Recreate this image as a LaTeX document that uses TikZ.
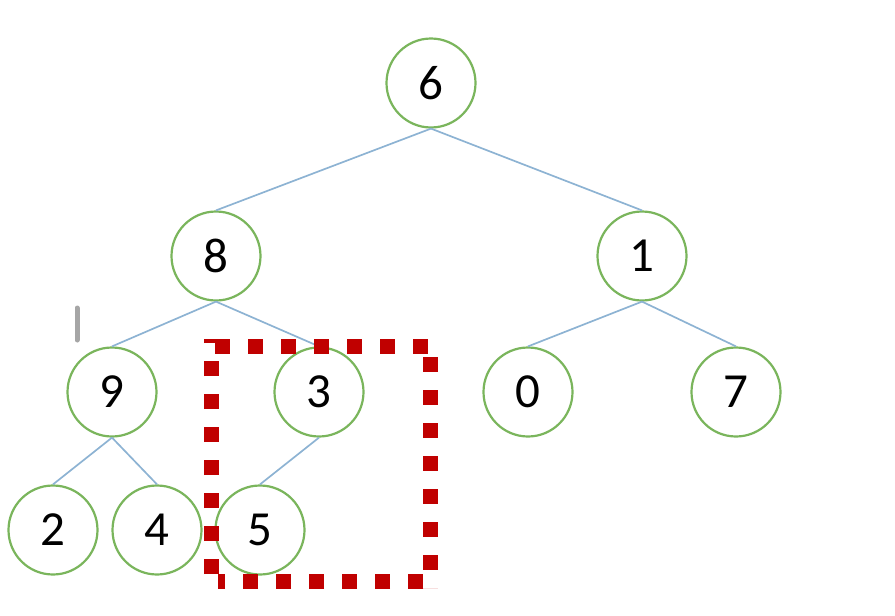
\documentclass[tikz,border=0pt]{standalone}
\usepackage{fontspec}
\setmainfont{Carlito}
\usepackage{tikz}
\definecolor{ringgreen}{HTML}{7AB55C}
\definecolor{edgeblue}{HTML}{8DB3D3}
\definecolor{boxred}{HTML}{C00000}
\definecolor{markgrey}{HTML}{A6A6A6}

\begin{document}
\begin{tikzpicture}[x=1pt,y=-1pt,
        key/.style={circle,draw=ringgreen,line width=2.2pt,minimum size=89pt,inner sep=0pt,
            font=\fontsize{49}{58}\selectfont},
        link/.style={draw=edgeblue,line width=1.7pt}]
        \useasboundingbox (0,0) rectangle (895,616);
        \node[key] (n6) at (431,83) {6};
        \node[key] (n8) at (216,256) {8};
        \node[key] (n1) at (642,256) {1};
        \node[key] (n9) at (112,392) {9};
        \node[key] (n3) at (319,392) {3};
        \node[key] (n0) at (528,392) {0};
        \node[key] (n7) at (736,392) {7};
        \node[key] (n2) at (53,530) {2};
        \node[key] (n4) at (157,530) {4};
        \node[key] (n5) at (260,530) {5};
        \draw[link] (n6.south) -- (n8.north);
        \draw[link] (n6.south) -- (n1.north);
        \draw[link] (n8.south) -- (n9.north);
        \draw[link] (n8.south) -- (n3.north);
        \draw[link] (n1.south) -- (n0.north);
        \draw[link] (n1.south) -- (n7.north);
        \draw[link] (n9.south) -- (n2.north);
        \draw[link] (n9.south) -- (n4.north);
        \draw[link] (n3.south) -- (n5.north);
        % dotted box round the sub-tree
        \draw[boxred,line width=15pt,dash pattern=on 15pt off 18pt]
            (215,346) -- (437,346) (430,357) -- (430,588) (423,581) -- (218,581) (211,574) -- (211,339);
        \draw[markgrey,line width=5pt,line cap=round] (77,308) -- (77,340);
    \end{tikzpicture}
\end{document}
